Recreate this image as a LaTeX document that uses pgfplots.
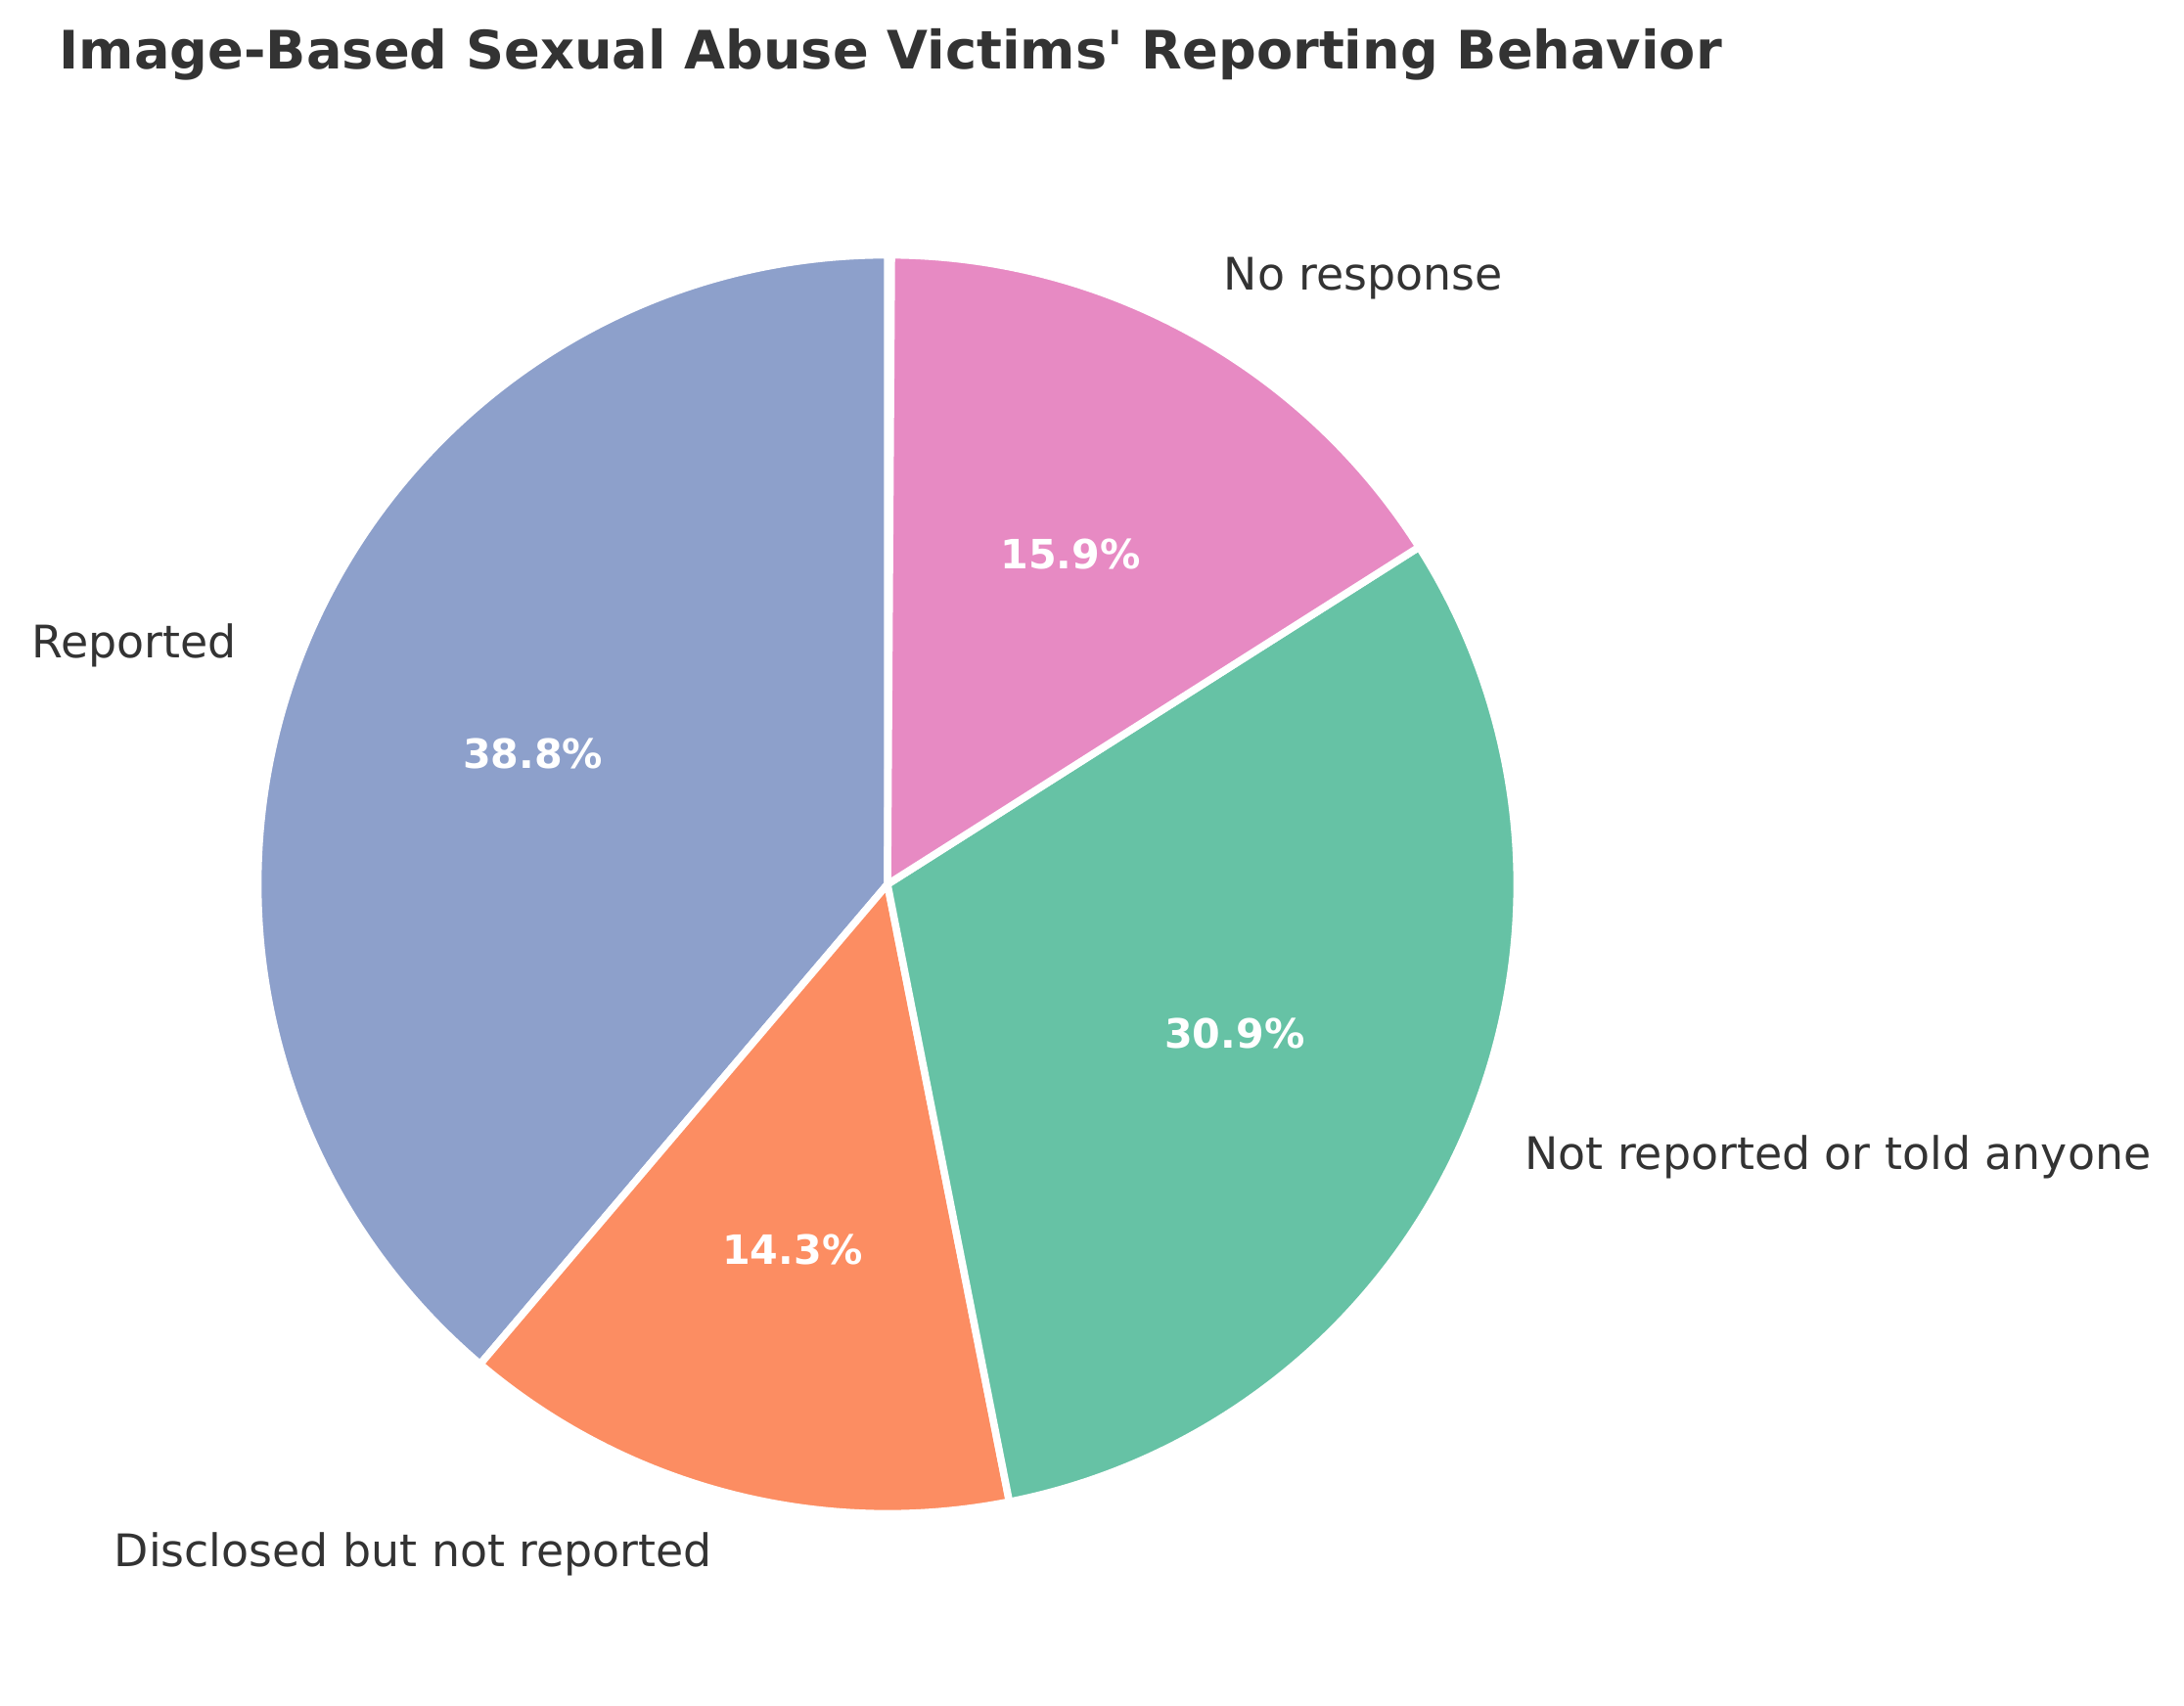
\documentclass[border=0pt]{standalone}
\usepackage{pgfplots}
\pgfplotsset{compat=1.18}
\usepackage{pgfplotstable}
\usepackage{fontspec}
\setmainfont{DejaVu Sans}
\newfontfamily\plainfont{DejaVu Sans}
\definecolor{cRep}{HTML}{8DA0CB}
\definecolor{cDis}{HTML}{FC8D62}
\definecolor{cNot}{HTML}{66C2A5}
\definecolor{cNo}{HTML}{E78AC3}
\definecolor{txt}{HTML}{333333}

\pgfplotstableread{
value
38.8
14.3
30.9
15.9
}\piedata

\pgfplotstablegetelem{0}{value}\of\piedata \let\vA\pgfplotsretval
\pgfplotstablegetelem{1}{value}\of\piedata \let\vB\pgfplotsretval
\pgfplotstablegetelem{2}{value}\of\piedata \let\vC\pgfplotsretval
\pgfplotstablegetelem{3}{value}\of\piedata \let\vD\pgfplotsretval

% angles (counter-clockwise from 90 deg)
\pgfmathsetmacro\angA{90}
\pgfmathsetmacro\angB{\angA+3.6*\vA}
\pgfmathsetmacro\angC{\angB+3.6*\vB}
\pgfmathsetmacro\angD{\angC+3.6*\vC}
\pgfmathsetmacro\angE{\angD+3.6*\vD}
% mid angles
\pgfmathsetmacro\midA{(\angA+\angB)/2}
\pgfmathsetmacro\midB{(\angB+\angC)/2}
\pgfmathsetmacro\midC{(\angC+\angD)/2}
\pgfmathsetmacro\midD{(\angD+\angE)/2}
% centre and radius in axis units (pixels)
\def\cx{907}
\def\cy{839}
\def\R{643.4}
\def\Rpt{154.42pt}
% label positions
\pgfmathsetmacro\lAx{\cx+1.1*\R*cos(\midA)}\pgfmathsetmacro\lAy{\cy+1.1*\R*sin(\midA)}
\pgfmathsetmacro\lBx{\cx+1.1*\R*cos(\midB)}\pgfmathsetmacro\lBy{\cy+1.1*\R*sin(\midB)}
\pgfmathsetmacro\lCx{\cx+1.1*\R*cos(\midC)}\pgfmathsetmacro\lCy{\cy+1.1*\R*sin(\midC)}
\pgfmathsetmacro\lDx{\cx+1.1*\R*cos(\midD)}\pgfmathsetmacro\lDy{\cy+1.1*\R*sin(\midD)}
\pgfmathsetmacro\pAx{\cx+0.6*\R*cos(\midA)}\pgfmathsetmacro\pAy{\cy+0.6*\R*sin(\midA)}
\pgfmathsetmacro\pBx{\cx+0.6*\R*cos(\midB)}\pgfmathsetmacro\pBy{\cy+0.6*\R*sin(\midB)}
\pgfmathsetmacro\pCx{\cx+0.6*\R*cos(\midC)}\pgfmathsetmacro\pCy{\cy+0.6*\R*sin(\midC)}
\pgfmathsetmacro\pDx{\cx+0.6*\R*cos(\midD)}\pgfmathsetmacro\pDy{\cy+0.6*\R*sin(\midD)}

\begin{document}
\begin{tikzpicture}
\begin{axis}[
  hide axis, scale only axis,
  width=535.68pt, height=418.32pt,
  xmin=0, xmax=2232, ymin=0, ymax=1743,
  clip=false,
]
\path (axis cs:0,0) rectangle (axis cs:2232,1743);
\fill[cRep, draw=white, line width=1.8pt, line join=round] (axis cs:\cx,\cy) -- ++(\angA:\Rpt) arc[start angle=\angA, end angle=\angB, radius=\Rpt] -- cycle;
\fill[cDis, draw=white, line width=1.8pt, line join=round] (axis cs:\cx,\cy) -- ++(\angB:\Rpt) arc[start angle=\angB, end angle=\angC, radius=\Rpt] -- cycle;
\fill[cNot, draw=white, line width=1.8pt, line join=round] (axis cs:\cx,\cy) -- ++(\angC:\Rpt) arc[start angle=\angC, end angle=\angD, radius=\Rpt] -- cycle;
\fill[cNo, draw=white, line width=1.8pt, line join=round] (axis cs:\cx,\cy) -- ++(\angD:\Rpt) arc[start angle=\angD, end angle=\angE, radius=\Rpt] -- cycle;

\tikzset{lbl/.style={text=txt, inner xsep=0pt, inner ysep=1pt, font=\fontsize{11}{13}\selectfont}}
\node[lbl, anchor=east] at (axis cs:\lAx,\lAy) {Reported};
\node[lbl, anchor=east] at (axis cs:\lBx,\lBy) {Disclosed but not reported};
\node[lbl, anchor=west] at (axis cs:\lCx,\lCy) {Not reported or told anyone};
\node[lbl, anchor=west] at (axis cs:\lDx,\lDy) {No response};

\node[text=white, font=\fontsize{9.9}{12}\selectfont\bfseries] at (axis cs:\pAx,\pAy) {\vA\%};
\node[text=white, font=\fontsize{9.9}{12}\selectfont\bfseries] at (axis cs:\pBx,\pBy) {\vB\%};
\node[text=white, font=\fontsize{9.9}{12}\selectfont\bfseries] at (axis cs:\pCx,\pCy) {\vC\%};
\node[text=white, font=\fontsize{9.9}{12}\selectfont\bfseries] at (axis cs:\pDx,\pDy) {\vD\%};

\node[anchor=base west, inner sep=0pt, text=txt, font=\plainfont\fontsize{13}{15}\selectfont\bfseries] at (axis cs:60,1672) {Image-Based Sexual Abuse Victims' Reporting Behavior};
\end{axis}
\end{tikzpicture}
\end{document}
